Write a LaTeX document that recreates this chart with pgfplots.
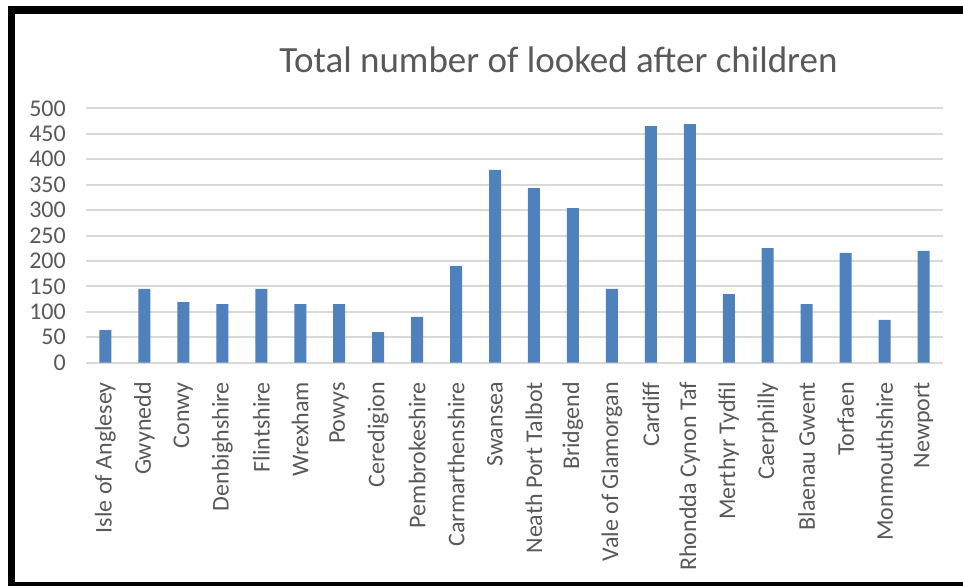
\documentclass[border=0pt]{standalone}
\usepackage{pgfplots}
\pgfplotsset{compat=1.18}
\usepackage{fontspec}
\setmainfont{Carlito}
\definecolor{barblue}{HTML}{4F81BD}
\definecolor{gridgray}{HTML}{D9D9D9}
\definecolor{textgray}{HTML}{595959}
\begin{document}
\begin{tikzpicture}
\useasboundingbox (0pt,0pt) rectangle (963pt,586pt);
\fill[white] (0pt,0pt) rectangle (963pt,586pt);
\begin{axis}[
  at={(86pt,223.3pt)}, anchor=south west,
  scale only axis, width=857pt, height=254.4pt,
  ybar, bar width=12pt,
  xmin=-0.5, xmax=21.5, ymin=0, ymax=500,
  ytick={0,50,...,500},
  xtick={0,...,21},
  xticklabels={Isle of Anglesey, Gwynedd, Conwy, Denbighshire, Flintshire,
    Wrexham, Powys, Ceredigion, Pembrokeshire, Carmarthenshire, Swansea,
    Neath Port Talbot, Bridgend, Vale of Glamorgan, Cardiff,
    Rhondda Cynon Taf, Merthyr Tydfil, Caerphilly, Blaenau Gwent, Torfaen,
    Monmouthshire, Newport},
  ymajorgrids, grid style={line width=2pt, gridgray},
  axis line style={draw=none}, tick style={draw=none},
  /pgf/number format/assume math mode=true,
  tick label style={font=\fontsize{24}{28}\selectfont, text=textgray, inner sep=0pt},
  yticklabel style={anchor=east},
  yticklabel shift=20pt,
  xticklabel style={rotate=90, anchor=east},
  xticklabel shift=15pt,
]
\addplot[fill=barblue, draw=none] coordinates {
  (0,64) (1,145) (2,119) (3,115) (4,145) (5,115) (6,115) (7,60) (8,90)
  (9,190) (10,379) (11,343) (12,304) (13,145) (14,465) (15,469) (16,135)
  (17,225) (18,115) (19,216) (20,84) (21,220)
};
\end{axis}
% outer frame
\fill[black] (8pt,0pt) rectangle (15pt,580pt);
\fill[black] (8pt,572pt) rectangle (963pt,580pt);
\fill[black] (8pt,0pt) rectangle (963pt,4pt);
\node[anchor=base, text=textgray, inner sep=0pt, font=\fontsize{37}{44}\selectfont]
  at (558.5pt,513pt) {Total number of looked after children};
\end{tikzpicture}
\end{document}
